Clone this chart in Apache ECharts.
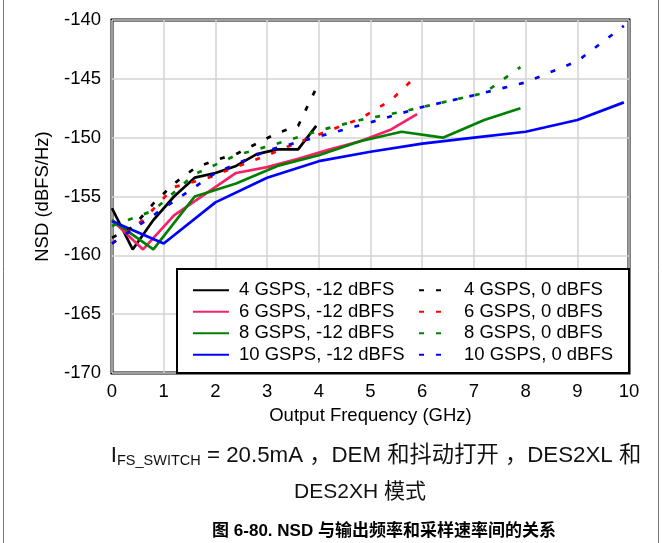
<!DOCTYPE html>
<html>
<head>
<meta charset="utf-8">
<script src="https://cdn.jsdelivr.net/npm/echarts@6/dist/echarts.min.js"></script>
<style>
html, body { margin: 0; padding: 0; background: #fff; }
#main { width: 662px; height: 543px; }
</style>
</head>
<body>
<div id="main"></div>
<script>
// output frequency points (GHz) for each sample rate
var freq4 = [0, 0.4, 0.8, 1.2, 1.6, 2.0, 2.4, 2.8, 3.2, 3.6, 3.95];
var freq6 = [0, 0.6, 1.2, 1.8, 2.4, 3.0, 3.6, 4.2, 4.8, 5.4, 5.9];
var freq8 = [0, 0.8, 1.6, 2.4, 3.2, 4.0, 4.8, 5.6, 6.4, 7.2, 7.9];
var freq10 = [0, 1, 2, 3, 4, 5, 6, 7, 8, 9, 9.9];

// NSD (dBFS/Hz), -12 dBFS input
var nsd4Low = [-156, -159.5, -157, -155, -153.4, -153, -152.4, -151.4, -151.0, -151.0, -149.0];
var nsd6Low = [-157, -159.5, -156.6, -154.8, -153, -152.5, -151.8, -151, -150.3, -149.3, -148];
var nsd8Low = [-157, -159.5, -155, -153.9, -152.4, -151.5, -150.3, -149.5, -150, -148.5, -147.5];
var nsd10Low = [-157.1, -159, -155.5, -153.4, -152, -151.2, -150.5, -150, -149.5, -148.5, -147];

// NSD (dBFS/Hz), 0 dBFS input
var nsd4Full = [-158.5, -157.6, -155.6, -153.9, -152.6, -151.9, -151.4, -150.5, -149.6, -149.0, -145.8];
var nsd6Full = [-159, -157, -154.2, -153.5, -152.5, -151.5, -150.4, -149.4, -148.4, -146.8, -144.7];
var nsd8Full = [-157.5, -156.2, -153.1, -151.5, -150.5, -149.4, -148.5, -147.8, -147, -146.2, -144];
var nsd10Full = [-159, -156, -153, -151.1, -149.9, -148.7, -147.4, -146.4, -145.3, -143.5, -140.5];

var lowNames = ['4 GSPS, -12 dBFS', '6 GSPS, -12 dBFS', '8 GSPS, -12 dBFS', '10 GSPS, -12 dBFS'];
var fullNames = ['4 GSPS, 0 dBFS', '6 GSPS, 0 dBFS', '8 GSPS, 0 dBFS', '10 GSPS, 0 dBFS'];

var FONT = '"Liberation Sans", Arial, "Noto Sans CJK SC", sans-serif';

function pairs(xs, ys) {
    var out = [];
    for (var i = 0; i < xs.length; i++) out.push([xs[i], ys[i]]);
    return out;
}

function mkLine(name, xs, ys, color, dashed) {
    return {
        name: name,
        type: 'line',
        data: pairs(xs, ys),
        symbol: 'none',
        color: color,
        lineStyle: { color: color, width: 2.7, type: dashed ? [5, 12] : 'solid' },
        z: dashed ? 3 : 2
    };
}

var chart = echarts.init(document.getElementById('main'));

function mkLegend(left, width, names, textPad) {
    return {
        orient: 'vertical',
        left: left,
        top: 281,
        itemWidth: width,
        itemHeight: 14,
        itemGap: 3,
        padding: 0,
        z: 6,
        data: names,
        itemStyle: { opacity: 0 },
        textStyle: { color: '#000', fontFamily: FONT, fontSize: 18.5, lineHeight: 14, padding: [0, 0, 0, textPad] }
    };
}

chart.setOption({
    animation: false,
    backgroundColor: '#fff',
    grid: {
        left: 112, top: 20, right: 33, bottom: 170,
        show: true, borderColor: '#000', borderWidth: 3
    },
    xAxis: {
        type: 'value', min: 0, max: 10, interval: 1,
        name: 'Output Frequency (GHz)',
        nameLocation: 'middle', nameGap: 30,
        nameTextStyle: { color: '#000', fontFamily: FONT, fontSize: 18.5 },
        axisLine: { show: false },
        axisTick: { show: false },
        axisLabel: { color: '#000', fontFamily: FONT, fontSize: 18.5, margin: 10 },
        splitLine: { lineStyle: { color: '#d3d3d3', width: 1.5 } }
    },
    yAxis: {
        type: 'value', min: -170, max: -140, interval: 5,
        name: 'NSD (dBFS/Hz)',
        nameLocation: 'middle', nameGap: 60,
        nameTextStyle: { color: '#000', fontFamily: FONT, fontSize: 18.5 },
        axisLine: { show: false },
        axisTick: { show: false },
        axisLabel: { color: '#000', fontFamily: FONT, fontSize: 18.5, margin: 11 },
        splitLine: { lineStyle: { color: '#d3d3d3', width: 1.5 } }
    },
    legend: [
        mkLegend(192, 36, lowNames, 5),
        mkLegend(418, 22, fullNames, 18)
    ],
    title: [
        {
            text: '{n|I}{s|FS_SWITCH}{n| = 20.5mA ，DEM 和抖动打开 ，DES2XL 和}',
            left: 371, top: 451, textAlign: 'center', textVerticalAlign: 'middle',
            textStyle: {
                fontWeight: 'normal',
                rich: {
                    n: { fontFamily: FONT, fontSize: 22.3, fontWeight: 'normal', color: '#111' },
                    s: { fontFamily: FONT, fontSize: 14.5, fontWeight: 'normal', color: '#111', padding: [10, 0, 0, 0] }
                }
            }
        },
        {
            text: 'DES2XH 模式',
            left: 355, top: 487, textAlign: 'center', textVerticalAlign: 'middle',
            textStyle: { fontFamily: FONT, fontSize: 21, fontWeight: 'normal', color: '#111' }
        },
        {
            text: '图 6-80. NSD 与输出频率和采样速率间的关系',
            left: 379, top: 526, textAlign: 'center', textVerticalAlign: 'middle',
            textStyle: { fontFamily: FONT, fontSize: 17, fontWeight: 'bold', color: '#000' }
        }
    ],
    graphic: [
        { type: 'rect', z: 4, shape: { x: 177, y: 269, width: 452, height: 104 },
          style: { fill: '#fff', stroke: '#000', lineWidth: 2 } },
        { type: 'line', z: 1, shape: { x1: 3.5, y1: 0, x2: 3.5, y2: 543 },
          style: { stroke: '#777', lineWidth: 1 } },
        { type: 'line', z: 1, shape: { x1: 658.5, y1: 0, x2: 658.5, y2: 543 },
          style: { stroke: '#777', lineWidth: 1 } }
    ],
    series: [
        mkLine(lowNames[0], freq4, nsd4Low, '#000000', false),
        mkLine(lowNames[1], freq6, nsd6Low, '#f7206a', false),
        mkLine(lowNames[2], freq8, nsd8Low, '#008000', false),
        mkLine(lowNames[3], freq10, nsd10Low, '#0000ff', false),
        mkLine(fullNames[0], freq4, nsd4Full, '#000000', true),
        mkLine(fullNames[1], freq6, nsd6Full, '#ff0000', true),
        mkLine(fullNames[2], freq8, nsd8Full, '#008000', true),
        mkLine(fullNames[3], freq10, nsd10Full, '#0000ff', true)
    ]
});
</script>
</body>
</html>
